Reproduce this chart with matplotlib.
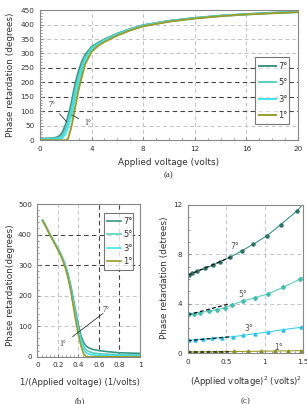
import numpy as np
import matplotlib
matplotlib.use("Agg")
from matplotlib import pyplot as plt
from matplotlib.ticker import MultipleLocator

# colours for the pretilt angles
c7 = '#3c9488'
c5 = '#5ccfbf'
c3 = '#3ee6ee'
c1 = '#9c9c2c'
labels = ['7°', '5°', '3°', '1°']

# (a) phase retardation vs applied voltage
volts = [0, 0.5, 1, 1.25, 1.5, 1.75, 2.0, 2.1, 2.2, 2.3, 2.4, 2.5, 2.6, 2.8, 3.0, 3.25, 3.5,
         4.0, 4.5, 5, 6, 7, 8, 10, 12, 14, 16, 18, 20]
a7 = [6, 6, 7, 9, 14, 27, 55, 69, 86, 103, 121, 142, 166, 207, 240, 272, 295,
      323, 337, 349, 369, 385, 398, 413, 423, 431, 436, 441, 444]
a5 = [4, 4, 5, 6, 9, 16, 38, 52, 68, 84, 102, 121, 143, 186, 222, 258, 286,
      319, 334, 347, 367, 384, 397, 412, 422, 430, 436, 440, 444]
a3 = [2, 2, 2.5, 3, 4, 8, 22, 34, 48, 64, 80, 98, 118, 162, 200, 240, 275,
      313, 330, 344, 365, 382, 396, 411, 422, 430, 435, 440, 443]
a1 = [0, 0, 0, 0, 0, 0, 0, 0, 8, 24, 40, 60, 84, 130, 175, 220, 262,
      306, 326, 340, 362, 380, 394, 410, 421, 429, 435, 439, 443]

# (b) phase retardation vs 1/V
inv_v = [0.05, 0.075, 0.1, 0.125, 0.15, 0.175, 0.2, 0.225, 0.25, 0.275, 0.3, 0.325, 0.35,
         0.375, 0.4, 0.425, 0.45, 0.475, 0.5, 0.55, 0.6, 0.7, 0.8, 0.9, 1.0]
b7 = [447, 432, 415, 399, 384, 369, 353, 338, 319, 297, 268, 232, 188,
      145, 103, 68, 47, 35, 29, 23, 20, 16, 13, 12, 11]
b5 = [446, 431, 414, 398, 383, 368, 352, 336, 317, 294, 264, 226, 180,
      135, 92, 57, 35, 23, 17, 12, 10, 8, 7, 6.5, 6]
b3 = [446, 431, 414, 398, 382, 367, 351, 335, 315, 291, 260, 221, 173,
      126, 82, 47, 25, 13, 9, 6, 5, 4, 3.5, 3, 3]
b1 = [445, 430, 413, 397, 381, 366, 350, 333, 312, 287, 255, 215, 165,
      115, 70, 35, 10, 0, 0, 0, 0, 0, 0, 0, 0]

# (c) phase retardation vs V^2 (measured points, last value = end of the fitted curve)
x7 = [0.01, 0.05, 0.12, 0.225, 0.33, 0.42, 0.55, 0.70, 0.85, 1.03, 1.21, 1.42, 1.5]
y7 = [6.31, 6.45, 6.64, 6.86, 7.13, 7.4, 7.75, 8.27, 8.8, 9.5, 10.4, 11.5, 12.05]
x5 = [0.01, 0.074, 0.16, 0.27, 0.38, 0.485, 0.57, 0.72, 0.87, 1.05, 1.24, 1.46, 1.5]
y5 = [3.14, 3.2, 3.28, 3.39, 3.52, 3.69, 3.88, 4.23, 4.47, 4.82, 5.31, 5.99, 6.15]
x3 = [0.01, 0.095, 0.2, 0.31, 0.44, 0.59, 0.72, 0.87, 1.05, 1.24, 1.48, 1.5]
y3 = [1.03, 1.08, 1.14, 1.19, 1.25, 1.33, 1.44, 1.57, 1.71, 1.90, 2.09, 2.12]
x1 = [0.01, 0.08, 0.17, 0.26, 0.36, 0.45, 0.6, 0.78, 0.95, 1.13, 1.3, 1.47, 1.5]
y1 = [0.1, 0.1, 0.1, 0.11, 0.11, 0.12, 0.13, 0.14, 0.15, 0.17, 0.18, 0.2, 0.2]
# linear fits over the low-voltage part
fit_x = [0, 0.55]
fit7 = [6.3, 7.75]
fit5 = [3.1, 4.0]
fit3 = [1.0, 1.32]
fit1 = [0.08, 0.1]

txt = '#333333'
spine = '#888888'
dark = '#444444'
light = '#c4c4c4'

def style(ax):
    for s in ax.spines.values():
        s.set_color(spine)
        s.set_linewidth(0.8)
    ax.tick_params(which='both', direction='in', colors=spine, labelcolor=txt,
                   labelsize=5.2, pad=4)
    ax.tick_params(which='major', length=2.5)
    ax.tick_params(which='minor', length=1.5)

fig = plt.figure(figsize=(3.07, 4.04), dpi=100)

# ---------- (a) ----------
ax = fig.add_axes([0.130, 0.653, 0.841, 0.322])
for v in [4, 8, 12, 16]:
    ax.axvline(v, color=light, lw=0.7, ls=(0, (4, 3)), zorder=0)
for h in [50, 300, 350, 400]:
    ax.axhline(h, color=light, lw=0.7, ls=(0, (4, 3)), zorder=0)
for h in [100, 150, 200, 250]:
    ax.axhline(h, color=dark, lw=0.8, ls=(0, (4, 3)), zorder=0)
ax.plot(volts, a7, color=c7, lw=1.4, label=labels[0])
ax.plot(volts, a5, color=c5, lw=1.4, label=labels[1])
ax.plot(volts, a3, color=c3, lw=1.4, label=labels[2])
ax.plot(volts, a1, color=c1, lw=1.4, label=labels[3])
ax.set_xlim(0, 20)
ax.set_ylim(0, 450)
ax.xaxis.set_major_locator(MultipleLocator(4))
ax.xaxis.set_minor_locator(MultipleLocator(1))
ax.yaxis.set_major_locator(MultipleLocator(50))
ax.yaxis.set_minor_locator(MultipleLocator(10))
style(ax)
ax.annotate('7°', xy=(2.07, 64), xytext=(0.9, 122), fontsize=5.5, family='Liberation Serif',
            color=txt, ha='center', va='center',
            arrowprops=dict(arrowstyle='-', color='#333333', lw=0.6, shrinkA=2, shrinkB=0))
ax.annotate('1°', xy=(2.46, 88), xytext=(3.67, 58), fontsize=5.5, family='Liberation Serif',
            color=txt, ha='center', va='center',
            arrowprops=dict(arrowstyle='-', color='#333333', lw=0.6, shrinkA=2, shrinkB=0))
leg = ax.legend(loc='lower left', bbox_to_anchor=(0.833, 0.123, 0.133, 0.454), mode='expand',
                fontsize=6, frameon=True, fancybox=False, handlelength=2.0, handletextpad=0.3,
                borderpad=0.5, labelspacing=0.9, borderaxespad=0)
leg.get_frame().set_edgecolor('#555555')
leg.get_frame().set_linewidth(0.8)
for t in leg.get_texts():
    t.set_color(txt)
fig.text(0.033, 0.814, 'Phase retardation (degrees)', rotation=90, ha='center', va='center',
         fontsize=6.4, color=txt)
fig.text(0.55, 0.597, 'Applied voltage (volts)', ha='center', va='center', fontsize=6.4, color=txt)
fig.text(0.55, 0.567, '(a)', ha='center', va='center', fontsize=6.4, color=txt,
         family='Liberation Serif')

# ---------- (b) ----------
ax = fig.add_axes([0.122, 0.117, 0.334, 0.378])
for v in [0.2, 0.4]:
    ax.axvline(v, color=light, lw=0.7, ls=(0, (4, 3)), zorder=0)
for h in [100, 200]:
    ax.axhline(h, color=light, lw=0.7, ls=(0, (4, 3)), zorder=0)
for v in [0.6, 0.8]:
    ax.axvline(v, color=dark, lw=0.8, ls=(0, (4, 3)), zorder=0)
for h in [300, 400]:
    ax.axhline(h, color=dark, lw=0.8, ls=(0, (4, 3)), zorder=0)
ax.plot(inv_v, b7, color=c7, lw=1.2, label=labels[0])
ax.plot(inv_v, b5, color=c5, lw=1.2, label=labels[1])
ax.plot(inv_v, b3, color=c3, lw=1.2, label=labels[2])
ax.plot(inv_v, b1, color=c1, lw=1.2, label=labels[3])
ax.set_xlim(0, 1)
ax.set_ylim(0, 500)
ax.xaxis.set_minor_locator(MultipleLocator(0.04))
ax.yaxis.set_major_locator(MultipleLocator(100))
ax.yaxis.set_minor_locator(MultipleLocator(20))
ax.set_xticks([0, 0.2, 0.4, 0.6, 0.8, 1.0])
ax.set_xticklabels(['0', '0.2', '0.4', '0.6', '0.8', '1'])
style(ax)
ax.annotate('1°', xy=(0.64, 142), xytext=(0.25, 42), fontsize=5.5, family='Liberation Serif',
            color=txt, ha='center', va='center',
            arrowprops=dict(arrowstyle='-', color='#333333', lw=0.6, shrinkA=3, shrinkB=0))
ax.text(0.67, 152, '7°', fontsize=5.5, family='Liberation Serif', color=txt,
        ha='center', va='center')
leg = ax.legend(loc='lower left', bbox_to_anchor=(0.65, 0.57, 0.28, 0.35), mode='expand',
                fontsize=6, frameon=True, fancybox=False, handlelength=1.6, handletextpad=0.3,
                borderpad=0.4, labelspacing=0.55, borderaxespad=0)
leg.get_frame().set_edgecolor('#555555')
leg.get_frame().set_linewidth(0.8)
for t in leg.get_texts():
    t.set_color(txt)
fig.text(0.033, 0.295, 'Phase retardation(degrees)', rotation=90, ha='center', va='center',
         fontsize=6.4, color=txt)
fig.text(0.26, 0.052, '1/(Applied voltage) (1/volts)', ha='center', va='center',
         fontsize=6.1, color=txt)
fig.text(0.26, 0.008, '(b)', ha='center', va='center', fontsize=6.4, color=txt,
         family='Liberation Serif')

# ---------- (c) ----------
ax = fig.add_axes([0.612, 0.126, 0.375, 0.367])
for v in [0.5, 1.0]:
    ax.axvline(v, color=light, lw=0.7, ls=(0, (4, 3)), zorder=0)
for h in [4, 8]:
    ax.axhline(h, color=light, lw=0.7, ls=(0, (4, 3)), zorder=0)
ax.plot(x7, y7, color=c7, lw=0.8)
ax.plot(x7[:-1], y7[:-1], 'o', color='#2b7268', ms=2.2, ls='none')
ax.plot(x5, y5, color=c5, lw=0.8)
ax.plot(x5[:-1], y5[:-1], 'D', color='#45bcae', ms=2.0, ls='none')
ax.plot(x3, y3, color='#3cd2ee', lw=0.8)
ax.plot(x3[:-1], y3[:-1], '^', color='#2cc0e8', ms=2.2, ls='none')
ax.plot(x1, y1, color=c1, lw=0.8)
ax.plot(x1[:-1], y1[:-1], '^', color='#8c8c20', ms=2.2, ls='none')
for fy in [fit7, fit5, fit3, fit1]:
    ax.plot(fit_x, fy, color='#111111', lw=0.9, ls=(0, (3, 2)))
ax.set_xlim(0, 1.5)
ax.set_ylim(0, 12)
ax.xaxis.set_minor_locator(MultipleLocator(0.1))
ax.yaxis.set_major_locator(MultipleLocator(4))
ax.yaxis.set_minor_locator(MultipleLocator(1))
ax.set_xticks([0, 0.5, 1.0, 1.5])
ax.set_xticklabels(['0', '0.5', '1', '1.5'])
style(ax)
ax.text(0.61, 8.6, '7°', fontsize=5.5, color='#555555', ha='center', va='center')
ax.text(0.72, 4.74, '5°', fontsize=5.5, color='#555555', ha='center', va='center')
ax.text(0.79, 1.98, '3°', fontsize=5.5, color='#555555', ha='center', va='center')
ax.text(1.18, 0.49, '1°', fontsize=5.5, color='#555555', ha='center', va='center')
fig.text(0.537, 0.312, 'Phase retardation (detrees)', rotation=90, ha='center', va='center',
         fontsize=6.4, color=txt)
fig.text(0.80, 0.054, '(Applied voltage)$^2$ (volts)$^2$', ha='center', va='center',
         fontsize=6.1, color=txt)
fig.text(0.80, 0.008, '(c)', ha='center', va='center', fontsize=6.4, color=txt,
         family='Liberation Serif')

fig.savefig('out.png', dpi=100)
